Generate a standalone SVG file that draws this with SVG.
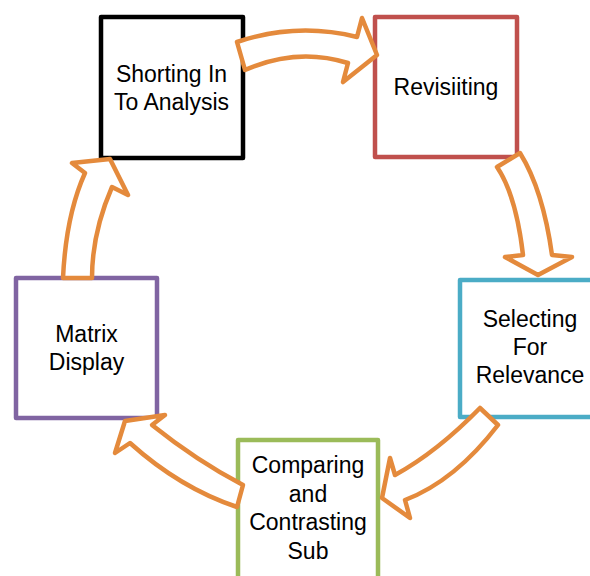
<svg xmlns="http://www.w3.org/2000/svg" width="590" height="576" viewBox="0 0 590 576">
<style>
.box{fill:#fff;stroke-width:4.5;stroke-linejoin:round}
.arr{fill:#fff;stroke:#E48A3C;stroke-width:4.5;stroke-linejoin:round}
text{font-family:"Liberation Sans",Arial,sans-serif;font-size:23px;fill:#000;text-anchor:middle}
</style>
<rect width="590" height="576" fill="#fff"/>
<g id="node-shorting">
<rect class="box" x="101" y="17" width="142" height="141" stroke="#000"/>
<text x="171.5" y="82">Shorting In</text>
<text x="171.5" y="110">To Analysis</text>
</g>
<g id="node-revisiting">
<rect class="box" x="375" y="17" width="142" height="140" stroke="#C0504D"/>
<text x="446" y="95">Revisiiting</text>
</g>
<g id="node-selecting">
<rect class="box" x="460" y="280" width="140" height="137" stroke="#4BACC6"/>
<text x="530" y="327">Selecting</text>
<text x="530" y="355">For</text>
<text x="530" y="383">Relevance</text>
</g>
<g id="node-comparing">
<rect class="box" x="238" y="440" width="140" height="150" stroke="#9BBB59"/>
<text x="308" y="473">Comparing</text>
<text x="308" y="502">and</text>
<text x="308" y="530">Contrasting</text>
<text x="308" y="559">Sub</text>
</g>
<g id="node-matrix">
<rect class="box" x="16" y="278" width="141" height="140" stroke="#8064A2"/>
<text x="86.5" y="342">Matrix</text>
<text x="86.5" y="370">Display</text>
</g>
<g id="connectors">
<path class="arr" d="M237,42 Q297,22 357,37 L362,18 L377,55 L343,82 L348,63 Q297,47 245,70 Z"/>
<path class="arr" d="M520,153 Q543,190 552,255 L572,257 L538,275 L505,257 L523,255 Q516,195 497,167 Z"/>
<path class="arr" d="M498,425 Q455,481 405,500 L410,518 L382,498 L390,458 L395,475 Q437,452 480,408 Z"/>
<path class="arr" d="M237,507 Q180,488 130,443 L115,453 L125,421 L165,415 L152,425 Q197,461 243,485 Z"/>
<path class="arr" d="M63,278 Q66,215 85,173 L72,163 L110,159 L128,195 L112,187 Q92,233 92,278 Z"/>
</g>
</svg>
